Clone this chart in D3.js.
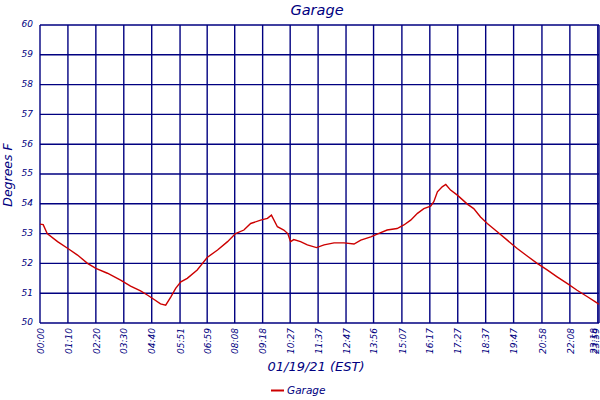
<!DOCTYPE html>
<html>
<head>
<meta charset="utf-8">
<script src="https://cdn.jsdelivr.net/npm/d3@7"></script>
<style>
  body { margin: 0; background: #fff; }
  text { font-family: "DejaVu Sans", sans-serif; font-style: italic; fill: #000080; }
</style>
</head>
<body>
<div id="chart-container"></div>
<script>
// minutes after midnight
const times = [0, 8, 18, 44, 70, 94, 119, 140, 169, 202, 227, 252, 269, 286, 302, 315,
  328, 340, 353, 369, 394, 419, 445, 470, 490, 511, 528, 553, 570, 580, 595, 611,
  621, 628, 636, 653, 670, 693, 712, 737, 762, 787, 804, 829, 845, 870, 895, 912,
  929, 946, 962, 979, 987, 996, 1008, 1017, 1029, 1046, 1071, 1087, 1104, 1121,
  1146, 1171, 1196, 1221, 1246, 1271, 1296, 1321, 1346, 1372, 1392, 1401];
// temperature, degrees F
const temps = [53.32, 53.3, 53.0, 52.73, 52.5, 52.28, 52.0, 51.83, 51.67, 51.44, 51.24, 51.08, 50.94, 50.79, 50.64, 50.6,
  50.88, 51.16, 51.38, 51.5, 51.78, 52.2, 52.45, 52.73, 53.0, 53.12, 53.34, 53.45, 53.51, 53.62, 53.23, 53.12,
  53.0, 52.73, 52.8, 52.73, 52.62, 52.53, 52.62, 52.69, 52.69, 52.65, 52.78, 52.89, 52.98, 53.12, 53.17, 53.29,
  53.45, 53.68, 53.84, 53.92, 54.07, 54.4, 54.57, 54.65, 54.46, 54.29, 53.99, 53.84, 53.56, 53.34,
  53.06, 52.78, 52.5, 52.25, 52.0, 51.78, 51.55, 51.33, 51.1, 50.88, 50.71, 50.63];

const tickTimes = [0, 70, 140, 210, 280, 351, 419, 488, 558, 627, 697, 767, 836, 907, 977,
  1047, 1117, 1187, 1258, 1328, 1398, 1401];
const tickLabels = ["00:00", "01:10", "02:20", "03:30", "04:40", "05:51", "06:59", "08:08", "09:18",
  "10:27", "11:37", "12:47", "13:56", "15:07", "16:17", "17:27", "18:37", "19:47", "20:58",
  "22:08", "23:18", "23:59"];
const yTicks = [50, 51, 52, 53, 54, 55, 56, 57, 58, 59, 60];

const margin = { top: 25, right: 1, bottom: 77, left: 40 };
const width = 600 - margin.left - margin.right;
const height = 400 - margin.top - margin.bottom;
const navy = "#000080";

const svg = d3.select("#chart-container")
  .append("svg")
    .attr("width", 600)
    .attr("height", 400);

const g = svg.append("g")
  .attr("transform", "translate(" + margin.left + "," + margin.top + ")");

const x = d3.scaleLinear().domain([0, 1401]).range([0, width]);
const y = d3.scaleLinear().domain([50, 60]).range([height, 0]);

// grid
g.selectAll(".vgrid")
  .data(tickTimes)
  .enter()
  .append("line")
    .attr("x1", d => x(d)).attr("x2", d => x(d))
    .attr("y1", 0).attr("y2", height)
    .attr("stroke", navy).attr("stroke-width", 1.4);

g.selectAll(".hgrid")
  .data(yTicks)
  .enter()
  .append("line")
    .attr("x1", 0).attr("x2", width)
    .attr("y1", d => y(d)).attr("y2", d => y(d))
    .attr("stroke", navy).attr("stroke-width", 1.4);

// X axis labels
const xAxis = g.append("g")
  .attr("transform", "translate(0," + height + ")")
  .call(d3.axisBottom(x)
    .tickValues(tickTimes)
    .tickSize(0)
    .tickFormat((d, i) => tickLabels[i]));
xAxis.select(".domain").remove();
xAxis.selectAll("text")
  .attr("transform", "rotate(-90)")
  .attr("x", -5)
  .attr("y", 0)
  .attr("dy", (d, i) => i >= tickLabels.length - 2 ? "-0.1em" : "0.35em")
  .attr("text-anchor", "end")
  .attr("fill", navy)
  .style("font-family", "'DejaVu Sans', sans-serif")
  .style("font-style", "italic")
  .style("font-size", "9px");

// Y axis labels
const yAxis = g.append("g")
  .call(d3.axisLeft(y).tickValues(yTicks).tickSize(0).tickFormat(d3.format("d")));
yAxis.select(".domain").remove();
yAxis.selectAll("text")
  .attr("x", -7)
  .attr("dy", "0.2em")
  .attr("fill", navy)
  .style("font-family", "'DejaVu Sans', sans-serif")
  .style("font-style", "italic")
  .style("font-size", "9px");

// temperature line
const line = d3.line()
  .x((d, i) => x(times[i]))
  .y(d => y(d));

g.append("path")
  .datum(temps)
  .attr("fill", "none")
  .attr("stroke", "#cc0000")
  .attr("stroke-width", 1.4)
  .attr("d", line);

// titles
svg.append("text")
  .attr("x", 317)
  .attr("y", 15)
  .attr("text-anchor", "middle")
  .style("font-size", "14.5px")
  .text("Garage");

svg.append("text")
  .attr("transform", "translate(12,175) rotate(-90)")
  .attr("text-anchor", "middle")
  .style("font-size", "12.5px")
  .text("Degrees F");

svg.append("text")
  .attr("x", 316)
  .attr("y", 371)
  .attr("text-anchor", "middle")
  .style("font-size", "13px")
  .text("01/19/21 (EST)");

// legend
const legend = svg.append("g");
legend.append("line")
  .attr("x1", 271).attr("x2", 284)
  .attr("y1", 390.5).attr("y2", 390.5)
  .attr("stroke", "#cc0000").attr("stroke-width", 2);
legend.append("text")
  .attr("x", 287)
  .attr("y", 394)
  .style("font-size", "10.5px")
  .text("Garage");
</script>
</body>
</html>
